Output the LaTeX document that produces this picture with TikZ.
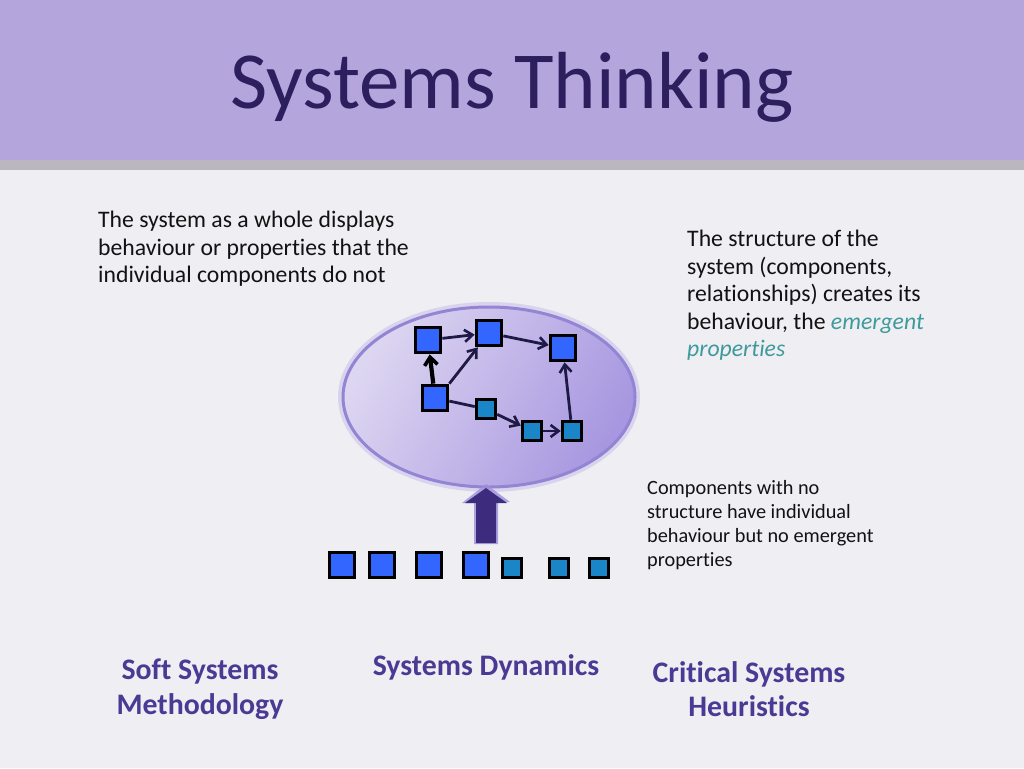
\documentclass[tikz,border=0pt]{standalone}
\usepackage{fontspec}
\setmainfont{Carlito}[Ligatures=NoCommon]
\usetikzlibrary{arrows.meta,shapes.geometric,calc}
\definecolor{bg}{HTML}{EFEEF3}
\definecolor{band}{HTML}{B4A6DD}
\definecolor{bandshadow}{HTML}{BAB7C0}
\definecolor{titlecol}{HTML}{2D1F5E}
\definecolor{labelcol}{HTML}{4B3A94}
\definecolor{tealcol}{HTML}{3E9A9B}
\definecolor{bigblue}{HTML}{3366FF}
\definecolor{smallblue}{HTML}{1A86C8}
\definecolor{arrowcol}{HTML}{1F1A45}
\definecolor{ellborder}{HTML}{9484D4}
\definecolor{elllight}{HTML}{DDD6F1}
\definecolor{elldark}{HTML}{A797E0}
\definecolor{bigarr}{HTML}{3D2B7D}
\definecolor{bigarrglow}{HTML}{9D8FDC}
\tikzset{
  bigsq/.style={draw=black, line width=3.2pt, fill=bigblue, minimum size=25.5pt, inner sep=0pt},
  smallsq/.style={draw=black, line width=3pt, fill=smallblue, minimum size=19.5pt, inner sep=0pt},
  link/.style={draw=arrowcol, line width=2.8pt, -{Straight Barb[length=8pt,width=12pt,line width=2.6pt]}},
  plainlink/.style={draw=arrowcol, line width=2.8pt},
  thicklink/.style={draw=black, line width=4.2pt, -{Straight Barb[length=8pt,width=13pt,line width=3.6pt]}},
  bodytext/.style={inner sep=0pt, anchor=north west, align=left, text=black!93, font=\fontsize{23.7}{27.5}\selectfont},
  smalltext/.style={inner sep=0pt, anchor=north west, align=left, text=black!93, font=\fontsize{20.3}{24}\selectfont},
  methodlabel/.style={inner sep=0pt, align=center, text=labelcol, font=\bfseries\fontsize{29.8}{34.5}\selectfont},
}
\begin{document}
\begin{tikzpicture}[x=1pt,y=-1pt]
\useasboundingbox (0,0) rectangle (1024,768);
\fill[bg] (0,0) rectangle (1024,768);
% title band
\fill[bandshadow] (0,158) rectangle (1024,170);
\fill[band] (0,0) rectangle (1024,160);
\node[inner sep=0pt, text=titlecol, font=\fontsize{81}{92}\selectfont] (title) at (512,87) {Systems Thinking};

% texts
\node[bodytext] (t1) at (98,211) {The system as a whole displays\\behaviour or properties that the\\individual components do not};
\node[bodytext] (t2) at (687,230) {The structure of the\\system (components,\\relationships) creates its\\behaviour, the \textcolor{tealcol}{\itshape emergent}\\\textcolor{tealcol}{\itshape properties}};
\node[smalltext] (t3) at (647,480) {Components with no\\structure have individual\\behaviour but no emergent\\properties};

% ellipse
\node[ellipse, draw=bigarrglow!60, line width=6pt, opacity=0.5, minimum width=296pt, minimum height=184pt] (glow) at (489,397) {};
\node[ellipse, draw=ellborder, line width=3pt, shading=axis, left color=elllight, right color=elldark, shading angle=60, minimum width=292pt, minimum height=180pt] (ell) at (489,397) {};

% system squares
\node[bigsq] (A) at (428,340) {};
\node[bigsq] (B) at (489,333) {};
\node[bigsq] (C) at (563,348) {};
\node[bigsq] (D) at (435,398) {};
\node[smallsq] (E) at (486,409) {};
\node[smallsq] (F) at (532,431) {};
\node[smallsq] (G) at (572,431) {};

\draw[link] (A) -- (B);
\draw[link] (B) -- (C);
\draw[thicklink] (D) -- (A);
\draw[link] (D.north east) -- (B);
\draw[plainlink] (D) -- (E);
\draw[link] (E) -- (F);
\draw[link] (F) -- (G);
\draw[link] (G) -- (C);

% big arrow
\coordinate (tip) at (486,488);
\coordinate (base) at (486,543);
\fill[bigarrglow, opacity=0.8] ($(base)+(-12,1)$) -- ++(0,-41) -- ++(-12,0) -- (486,484) -- (510,502) -- ++(-12,0) -- ++(0,42) -- cycle;
\fill[bigarr] ($(base)+(-10,0)$) -- ++(0,-40) -- ++(-11,0) -- (tip) -- (507,503) -- ++(-11,0) -- (496,543) -- cycle;

% row of components
\node[bigsq] (r1) at (342,565) {};
\node[bigsq] (r2) at (382,565) {};
\node[bigsq] (r3) at (429,565) {};
\node[bigsq] (r4) at (476,565) {};
\node[smallsq] (r5) at (512,568) {};
\node[smallsq] (r6) at (559,568) {};
\node[smallsq] (r7) at (599,568) {};

% method labels
\node[methodlabel] (ssm) at (200,689) {Soft Systems\\Methodology};
\node[methodlabel] (sd) at (486,667) {Systems Dynamics};
\node[methodlabel] (csh) at (749,689) {Critical Systems\\Heuristics};
\end{tikzpicture}
\end{document}
